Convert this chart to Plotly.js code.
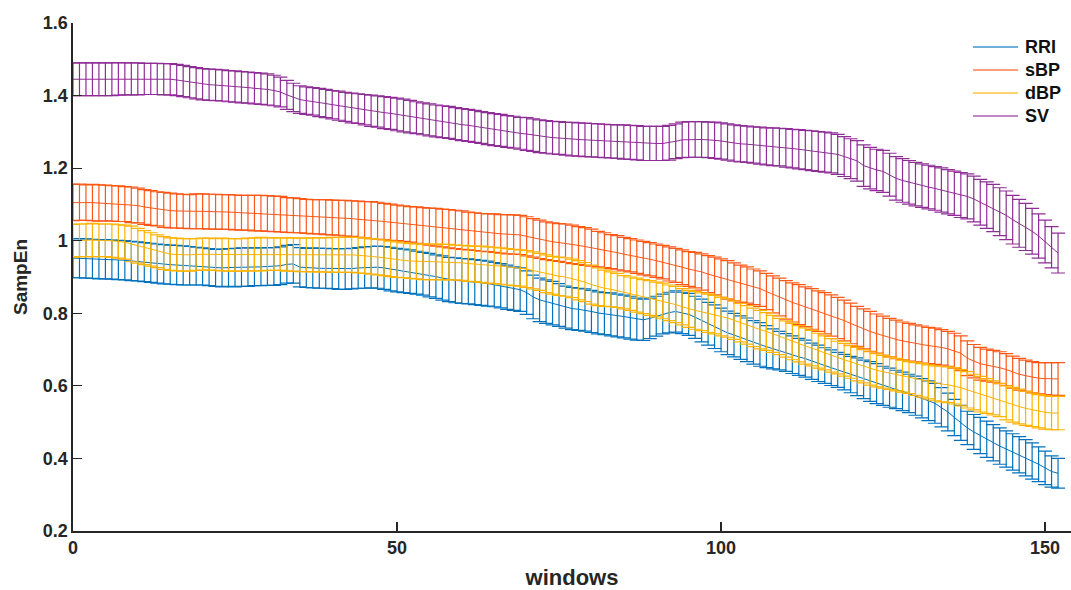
<!DOCTYPE html>
<html>
<head>
<meta charset="utf-8">
<script src="https://cdn.plot.ly/plotly-3.0.1.min.js"></script>
<style>
  html, body { margin: 0; padding: 0; background: #ffffff; }
  #chart { width: 1071px; height: 590px; }
</style>
</head>
<body>
<div id="chart"></div>
<script>
// Sample entropy per analysis window: mean and standard error for each signal.
const windows = Array.from({length: 153}, (_, i) => i);

const seriesNames = ['RRI', 'sBP', 'dBP', 'SV'];
const seriesColors = ['#0072BD', '#FF5714', '#FFB300', '#8F2D96'];

const rriMean = [
  0.952, 0.952, 0.951, 0.950, 0.949, 0.949,
  0.948, 0.947, 0.946, 0.944, 0.943,
  0.941, 0.939, 0.937, 0.935, 0.934,
  0.933, 0.932, 0.931, 0.930, 0.929,
  0.927, 0.925, 0.925, 0.926, 0.926,
  0.927, 0.927, 0.928, 0.928, 0.929,
  0.929, 0.931, 0.935, 0.936, 0.927,
  0.925, 0.925, 0.924, 0.924, 0.923,
  0.922, 0.922, 0.923, 0.925, 0.926,
  0.927, 0.927, 0.925, 0.922, 0.919,
  0.917, 0.915, 0.912, 0.909, 0.905,
  0.901, 0.897, 0.893, 0.891, 0.889,
  0.888, 0.886, 0.884, 0.882, 0.879,
  0.876, 0.872, 0.868, 0.865, 0.857,
  0.845, 0.837, 0.832, 0.828, 0.823,
  0.817, 0.813, 0.811, 0.809, 0.805,
  0.801, 0.799, 0.797, 0.794, 0.791,
  0.788, 0.784, 0.782, 0.786, 0.792,
  0.798, 0.802, 0.805, 0.801, 0.797,
  0.789, 0.780, 0.771, 0.763, 0.754,
  0.746, 0.740, 0.733, 0.727, 0.720,
  0.714, 0.708, 0.702, 0.697, 0.692,
  0.686, 0.680, 0.675, 0.668, 0.662,
  0.656, 0.650, 0.644, 0.638, 0.631,
  0.625, 0.618, 0.612, 0.606, 0.600,
  0.595, 0.590, 0.585, 0.579, 0.573,
  0.566, 0.559, 0.552, 0.541, 0.528,
  0.513, 0.498, 0.484, 0.473, 0.463,
  0.453, 0.443, 0.434, 0.426, 0.418,
  0.410, 0.402, 0.393, 0.384, 0.374,
  0.364, 0.359
];
const rriErr = [
  0.054, 0.054, 0.054, 0.054, 0.054, 0.054,
  0.054, 0.054, 0.054, 0.054, 0.054,
  0.054, 0.054, 0.054, 0.054, 0.054,
  0.054, 0.054, 0.053, 0.052, 0.051,
  0.051, 0.051, 0.052, 0.052, 0.053,
  0.053, 0.053, 0.052, 0.052, 0.052,
  0.052, 0.052, 0.052, 0.053, 0.054,
  0.054, 0.055, 0.055, 0.055, 0.055,
  0.056, 0.056, 0.056, 0.056, 0.057,
  0.057, 0.058, 0.059, 0.060, 0.060,
  0.060, 0.060, 0.059, 0.059, 0.060,
  0.060, 0.061, 0.061, 0.062, 0.062,
  0.062, 0.062, 0.062, 0.062, 0.061,
  0.061, 0.061, 0.060, 0.060, 0.060,
  0.060, 0.060, 0.060, 0.060, 0.059,
  0.058, 0.058, 0.058, 0.058, 0.058,
  0.058, 0.058, 0.059, 0.059, 0.059,
  0.059, 0.058, 0.057, 0.056, 0.055,
  0.055, 0.056, 0.057, 0.057, 0.058,
  0.058, 0.059, 0.059, 0.060, 0.060,
  0.060, 0.060, 0.060, 0.060, 0.060,
  0.060, 0.058, 0.055, 0.053, 0.052,
  0.052, 0.051, 0.051, 0.050, 0.050,
  0.049, 0.049, 0.048, 0.049, 0.050,
  0.052, 0.053, 0.055, 0.055, 0.054,
  0.054, 0.053, 0.053, 0.053, 0.054,
  0.054, 0.055, 0.055, 0.054, 0.052,
  0.050, 0.048, 0.046, 0.048, 0.050,
  0.050, 0.050, 0.050, 0.050, 0.050,
  0.050, 0.050, 0.050, 0.048, 0.046,
  0.043, 0.041
];

const sbpMean = [
  1.105, 1.106, 1.105, 1.105, 1.104, 1.104,
  1.103, 1.102, 1.101, 1.099, 1.097,
  1.093, 1.090, 1.088, 1.085, 1.083,
  1.082, 1.081, 1.080, 1.081, 1.081,
  1.080, 1.080, 1.079, 1.079, 1.078,
  1.077, 1.077, 1.076, 1.076, 1.075,
  1.074, 1.073, 1.071, 1.070, 1.069,
  1.067, 1.066, 1.066, 1.065, 1.064,
  1.063, 1.062, 1.061, 1.059, 1.058,
  1.057, 1.055, 1.053, 1.051, 1.049,
  1.047, 1.045, 1.043, 1.041, 1.039,
  1.037, 1.035, 1.033, 1.031, 1.029,
  1.027, 1.025, 1.023, 1.022, 1.021,
  1.019, 1.018, 1.017, 1.016, 1.012,
  1.008, 1.004, 1.000, 0.997, 0.995,
  0.993, 0.990, 0.987, 0.984, 0.981,
  0.977, 0.974, 0.970, 0.967, 0.963,
  0.960, 0.956, 0.952, 0.949, 0.945,
  0.941, 0.936, 0.932, 0.927, 0.922,
  0.919, 0.914, 0.908, 0.903, 0.897,
  0.892, 0.887, 0.882, 0.878, 0.873,
  0.868, 0.860, 0.852, 0.845, 0.837,
  0.830, 0.824, 0.818, 0.812, 0.806,
  0.800, 0.794, 0.787, 0.780, 0.772,
  0.764, 0.757, 0.750, 0.744, 0.738,
  0.733, 0.728, 0.724, 0.720, 0.717,
  0.714, 0.711, 0.709, 0.706, 0.702,
  0.697, 0.690, 0.676, 0.668, 0.661,
  0.657, 0.654, 0.650, 0.645, 0.638,
  0.632, 0.628, 0.624, 0.621, 0.620,
  0.619, 0.619
];
const sbpErr = [
  0.050, 0.050, 0.049, 0.050, 0.050, 0.049,
  0.049, 0.049, 0.048, 0.049, 0.048,
  0.048, 0.048, 0.047, 0.048, 0.048,
  0.047, 0.047, 0.047, 0.048, 0.048,
  0.048, 0.048, 0.048, 0.048, 0.048,
  0.048, 0.048, 0.049, 0.049, 0.049,
  0.049, 0.049, 0.048, 0.048, 0.047,
  0.047, 0.047, 0.047, 0.048, 0.048,
  0.048, 0.049, 0.049, 0.050, 0.050,
  0.051, 0.051, 0.050, 0.050, 0.049,
  0.049, 0.049, 0.050, 0.050, 0.051,
  0.052, 0.052, 0.053, 0.053, 0.053,
  0.052, 0.052, 0.052, 0.052, 0.053,
  0.053, 0.054, 0.054, 0.054, 0.054,
  0.053, 0.053, 0.052, 0.052, 0.052,
  0.053, 0.053, 0.052, 0.052, 0.051,
  0.049, 0.048, 0.047, 0.047, 0.046,
  0.046, 0.046, 0.046, 0.046, 0.046,
  0.046, 0.047, 0.047, 0.048, 0.048,
  0.049, 0.050, 0.051, 0.052, 0.053,
  0.053, 0.052, 0.051, 0.050, 0.049,
  0.049, 0.050, 0.051, 0.052, 0.053,
  0.054, 0.055, 0.055, 0.056, 0.056,
  0.057, 0.057, 0.057, 0.056, 0.056,
  0.055, 0.055, 0.055, 0.054, 0.054,
  0.053, 0.053, 0.052, 0.052, 0.051,
  0.051, 0.050, 0.050, 0.049, 0.048,
  0.048, 0.048, 0.048, 0.046, 0.045,
  0.044, 0.044, 0.044, 0.044, 0.044,
  0.044, 0.043, 0.043, 0.043, 0.044,
  0.045, 0.045
];

const dbpMean = [
  1.000, 1.001, 1.001, 1.002, 1.001, 1.001,
  1.000, 0.998, 0.996, 0.991, 0.986,
  0.981, 0.976, 0.971, 0.966, 0.963,
  0.962, 0.961, 0.961, 0.962, 0.963,
  0.963, 0.962, 0.962, 0.961, 0.961,
  0.961, 0.962, 0.962, 0.963, 0.963,
  0.963, 0.963, 0.962, 0.962, 0.961,
  0.961, 0.961, 0.961, 0.961, 0.961,
  0.961, 0.961, 0.961, 0.960, 0.959,
  0.957, 0.955, 0.953, 0.950, 0.948,
  0.946, 0.944, 0.943, 0.942, 0.942,
  0.942, 0.941, 0.941, 0.940, 0.939,
  0.937, 0.936, 0.935, 0.933, 0.932,
  0.930, 0.928, 0.926, 0.925, 0.922,
  0.918, 0.914, 0.909, 0.905, 0.902,
  0.900, 0.896, 0.891, 0.886, 0.879,
  0.873, 0.869, 0.866, 0.863, 0.858,
  0.854, 0.850, 0.846, 0.842, 0.838,
  0.834, 0.829, 0.824, 0.818, 0.812,
  0.808, 0.804, 0.800, 0.796, 0.791,
  0.787, 0.781, 0.774, 0.768, 0.761,
  0.755, 0.750, 0.743, 0.736, 0.729,
  0.722, 0.716, 0.710, 0.704, 0.697,
  0.691, 0.684, 0.678, 0.672, 0.666,
  0.660, 0.654, 0.648, 0.643, 0.639,
  0.635, 0.631, 0.627, 0.623, 0.619,
  0.615, 0.611, 0.607, 0.605, 0.603,
  0.600, 0.595, 0.589, 0.583, 0.577,
  0.572, 0.567, 0.561, 0.553, 0.548,
  0.543, 0.538, 0.534, 0.530, 0.527,
  0.525, 0.525
];
const dbpErr = [
  0.045, 0.045, 0.045, 0.046, 0.045, 0.045,
  0.046, 0.046, 0.047, 0.049, 0.048,
  0.047, 0.046, 0.045, 0.045, 0.045,
  0.045, 0.045, 0.045, 0.044, 0.044,
  0.044, 0.044, 0.045, 0.045, 0.045,
  0.045, 0.045, 0.045, 0.046, 0.045,
  0.045, 0.045, 0.046, 0.046, 0.046,
  0.046, 0.047, 0.047, 0.047, 0.048,
  0.048, 0.048, 0.048, 0.049, 0.049,
  0.049, 0.049, 0.049, 0.049, 0.049,
  0.048, 0.048, 0.048, 0.049, 0.049,
  0.049, 0.049, 0.049, 0.048, 0.048,
  0.049, 0.049, 0.050, 0.050, 0.050,
  0.050, 0.050, 0.050, 0.050, 0.051,
  0.051, 0.051, 0.052, 0.052, 0.053,
  0.053, 0.053, 0.054, 0.054, 0.054,
  0.052, 0.050, 0.048, 0.047, 0.046,
  0.046, 0.047, 0.047, 0.048, 0.048,
  0.049, 0.049, 0.050, 0.050, 0.051,
  0.052, 0.052, 0.053, 0.053, 0.053,
  0.053, 0.053, 0.053, 0.053, 0.053,
  0.053, 0.052, 0.051, 0.050, 0.050,
  0.050, 0.050, 0.050, 0.049, 0.048,
  0.047, 0.046, 0.045, 0.045, 0.045,
  0.046, 0.046, 0.046, 0.046, 0.045,
  0.045, 0.045, 0.044, 0.044, 0.045,
  0.046, 0.047, 0.048, 0.049, 0.049,
  0.050, 0.050, 0.050, 0.049, 0.049,
  0.048, 0.047, 0.046, 0.047, 0.048,
  0.048, 0.047, 0.046, 0.046, 0.046,
  0.046, 0.046
];

const svMean = [
  1.445, 1.445, 1.445, 1.445, 1.445, 1.445,
  1.445, 1.446, 1.446, 1.446, 1.446,
  1.446, 1.446, 1.446, 1.445, 1.445,
  1.443, 1.440, 1.437, 1.434, 1.431,
  1.430, 1.429, 1.428, 1.426, 1.425,
  1.423, 1.422, 1.420, 1.419, 1.417,
  1.414, 1.410, 1.402, 1.395, 1.389,
  1.386, 1.384, 1.381, 1.378, 1.375,
  1.372, 1.369, 1.366, 1.364, 1.361,
  1.358, 1.356, 1.353, 1.351, 1.348,
  1.345, 1.342, 1.339, 1.336, 1.333,
  1.330, 1.328, 1.326, 1.323, 1.320,
  1.318, 1.315, 1.312, 1.309, 1.306,
  1.304, 1.301, 1.299, 1.296, 1.294,
  1.291, 1.288, 1.286, 1.284, 1.283,
  1.281, 1.280, 1.279, 1.278, 1.277,
  1.276, 1.275, 1.274, 1.273, 1.272,
  1.271, 1.270, 1.268, 1.268, 1.268,
  1.268, 1.270, 1.274, 1.278, 1.279,
  1.279, 1.279, 1.278, 1.277, 1.275,
  1.272, 1.269, 1.267, 1.266, 1.264,
  1.262, 1.260, 1.259, 1.258, 1.256,
  1.254, 1.252, 1.250, 1.248, 1.246,
  1.244, 1.242, 1.238, 1.232, 1.226,
  1.220, 1.207, 1.200, 1.195, 1.191,
  1.182, 1.172, 1.166, 1.161, 1.156,
  1.152, 1.148, 1.144, 1.140, 1.135,
  1.131, 1.126, 1.122, 1.115, 1.106,
  1.098, 1.090, 1.080, 1.070, 1.058,
  1.048, 1.038, 1.026, 1.013, 0.998,
  0.982, 0.966
];
const svErr = [
  0.045, 0.045, 0.045, 0.045, 0.045, 0.045,
  0.045, 0.045, 0.044, 0.044, 0.044,
  0.043, 0.043, 0.043, 0.043, 0.043,
  0.043, 0.043, 0.043, 0.043, 0.043,
  0.043, 0.043, 0.043, 0.043, 0.043,
  0.043, 0.043, 0.043, 0.043, 0.043,
  0.042, 0.041, 0.040, 0.039, 0.038,
  0.038, 0.038, 0.039, 0.039, 0.039,
  0.040, 0.040, 0.041, 0.041, 0.042,
  0.043, 0.043, 0.044, 0.044, 0.045,
  0.045, 0.045, 0.044, 0.044, 0.044,
  0.044, 0.044, 0.044, 0.044, 0.044,
  0.044, 0.044, 0.044, 0.044, 0.044,
  0.044, 0.044, 0.044, 0.044, 0.045,
  0.045, 0.045, 0.045, 0.045, 0.045,
  0.045, 0.046, 0.046, 0.046, 0.046,
  0.046, 0.046, 0.046, 0.046, 0.047,
  0.047, 0.047, 0.047, 0.047, 0.047,
  0.047, 0.048, 0.048, 0.049, 0.049,
  0.049, 0.049, 0.049, 0.050, 0.050,
  0.050, 0.050, 0.050, 0.050, 0.050,
  0.051, 0.051, 0.052, 0.052, 0.053,
  0.053, 0.054, 0.054, 0.055, 0.055,
  0.055, 0.055, 0.055, 0.055, 0.055,
  0.056, 0.057, 0.057, 0.057, 0.058,
  0.059, 0.060, 0.060, 0.060, 0.060,
  0.060, 0.060, 0.060, 0.061, 0.061,
  0.061, 0.062, 0.062, 0.063, 0.063,
  0.064, 0.065, 0.066, 0.067, 0.067,
  0.066, 0.065, 0.063, 0.061, 0.059,
  0.057, 0.055
];

const xTicks = [0, 50, 100, 150];
const yTicks = [0.2, 0.4, 0.6, 0.8, 1.0, 1.2, 1.4, 1.6];
const yTickText = ['0.2', '0.4', '0.6', '0.8', '1', '1.2', '1.4', '1.6'];

const means = [rriMean, sbpMean, dbpMean, svMean];
const errs = [rriErr, sbpErr, dbpErr, svErr];

const FONT = 'Liberation Sans, Arial, Helvetica, sans-serif';
const INK = '#262626';

const traces = seriesNames.map((name, k) => ({
  type: 'scatter',
  mode: 'lines',
  name: name,
  x: windows,
  y: means[k],
  line: { color: seriesColors[k], width: 1 },
  error_y: {
    type: 'data',
    array: errs[k],
    symmetric: true,
    visible: true,
    color: seriesColors[k],
    thickness: 1.2,
    width: 7
  },
  showlegend: false,
  hoverinfo: 'x+y+name'
}));

// Legend drawn as line samples plus labels, stacked in the upper-right corner.
const legendX0 = 0.9018, legendX1 = 0.9469, legendTextX = 0.9519;
const legendTop = 0.9528, legendStep = 0.0453;
const legendShapes = seriesNames.map((name, k) => ({
  type: 'line', xref: 'paper', yref: 'paper',
  x0: legendX0, x1: legendX1,
  y0: legendTop - k * legendStep, y1: legendTop - k * legendStep,
  line: { color: seriesColors[k], width: 1.5 },
  opacity: 0.75
}));
const legendLabels = seriesNames.map((name, k) => ({
  xref: 'paper', yref: 'paper',
  x: legendTextX, y: legendTop - k * legendStep,
  xanchor: 'left', yanchor: 'middle',
  text: name, showarrow: false,
  font: { family: FONT, size: 18, color: '#111111', weight: 'bold' }
}));

const layout = {
  width: 1071,
  height: 590,
  margin: { l: 73, r: 0, t: 23, b: 59 },
  paper_bgcolor: '#ffffff',
  plot_bgcolor: '#ffffff',
  showlegend: false,
  font: { family: FONT, color: INK },
  shapes: legendShapes,
  annotations: legendLabels,
  xaxis: {
    range: [0, 154],
    tickvals: xTicks,
    ticktext: xTicks.map(String),
    ticks: 'inside',
    ticklen: 9,
    tickwidth: 1.2,
    tickcolor: INK,
    showline: true,
    linecolor: INK,
    linewidth: 1.6,
    mirror: false,
    showgrid: false,
    zeroline: false,
    tickfont: { family: FONT, size: 18, color: INK, weight: 'bold' },
    title: { text: 'windows', font: { family: FONT, size: 22, color: INK, weight: 'bold' }, standoff: 12 }
  },
  yaxis: {
    range: [0.2, 1.6],
    tickvals: yTicks,
    ticktext: yTickText,
    ticks: 'inside',
    ticklen: 9,
    tickwidth: 1.2,
    tickcolor: INK,
    showline: true,
    linecolor: INK,
    linewidth: 1.6,
    mirror: false,
    showgrid: false,
    zeroline: false,
    tickfont: { family: FONT, size: 18, color: INK, weight: 'bold' },
    title: { text: 'SampEn', font: { family: FONT, size: 19, color: INK, weight: 'bold' }, standoff: 10 }
  }
};

Plotly.newPlot('chart', traces, layout, { staticPlot: true, displayModeBar: false });
</script>
</body>
</html>
